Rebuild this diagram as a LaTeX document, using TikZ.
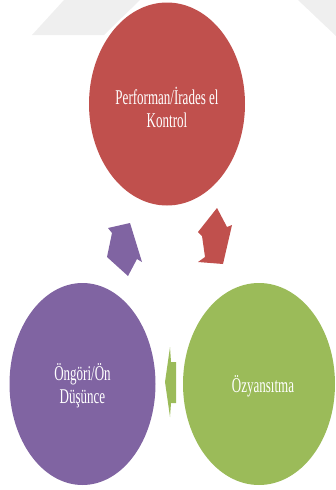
\documentclass[tikz,border=0pt]{standalone}
\usepackage{fontspec}
\setmainfont{Liberation Serif}
\usetikzlibrary{shapes.geometric}
\definecolor{cred}{HTML}{C0504D}
\definecolor{cpurple}{HTML}{8064A2}
\definecolor{cgreen}{HTML}{9BBB59}
\definecolor{wm}{HTML}{EFEFEF}
\tikzset{
  blob/.style={ellipse, inner sep=0pt, minimum width=#1},
  lbl/.style={text=white, font=\fontsize{21}{23}\selectfont, align=center},
}
\newcommand{\sq}[1]{\scalebox{0.62}[1]{#1}}
\begin{document}
\begin{tikzpicture}[x=1pt,y=-1pt]
\useasboundingbox (0,0) rectangle (336,490);
% faint watermark
\fill[wm] (32,35) -- (64,0) -- (140,0) -- (104,35) -- cycle;
\fill[wm] (298,0) -- (336,0) -- (336,36) -- cycle;
% circles
\node[blob=156pt, minimum height=203pt, fill=cred] (perf) at (167,104) {};
\node[blob=146pt, minimum height=202pt, fill=cpurple] (ong) at (82.5,384) {};
\node[blob=152pt, minimum height=202pt, fill=cgreen] (ozy) at (259,384) {};
% labels
\node[lbl] at ([yshift=-3pt]perf.center) {\sq{Performan/İrades el}\\\sq{Kontrol}};
\node[lbl] at ([yshift=-2pt]ong.center) {\sq{Öngöri/Ön}\\\sq{Düşünce}};
\node[lbl] at ([yshift=-2pt,xshift=4pt]ozy.center) {\sq{Özyansıtma}};
% block arrows
\fill[cred] (217,208) -- (198,232) -- (202,236) -- (205,257) -- (198,262) -- (223,264) -- (232,225) -- (227,227) -- cycle;
\fill[cpurple] (108,228) -- (130,223) -- (142,262) -- (137,259) -- (128,276) -- (107,257) -- (112,233) -- cycle;
\fill[cgreen] (165,382) -- (170,347) -- (171,362) -- (176,362) -- (176,403) -- (171,403) -- (170,417) -- cycle;
\end{tikzpicture}
\end{document}
